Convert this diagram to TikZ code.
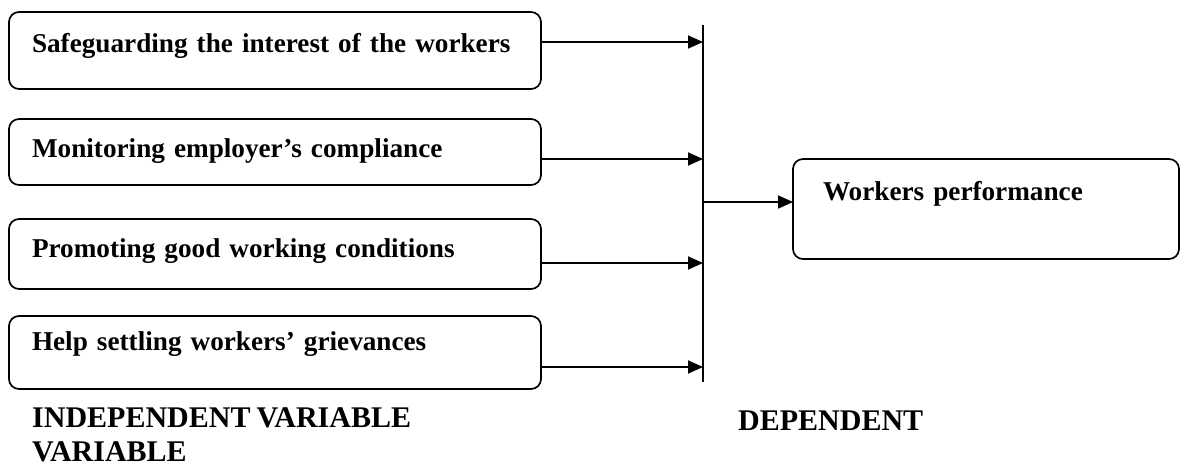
\documentclass[tikz,border=0pt]{standalone}
\usepackage{fontspec}
\setmainfont[WordSpace=0.8]{Liberation Serif}
\usetikzlibrary{arrows.meta,positioning}
\tikzset{
  ivbox/.style 2 args={draw, line width=1.7pt, rounded corners=10pt, anchor=north west,
    inner xsep=23pt, inner ysep=0pt, outer sep=0pt, text width=486pt, align=left,
    text height=#1, text depth=#2, font=\fontsize{27.2}{30}\selectfont\bfseries},
  dvbox/.style={ivbox={41pt}{59pt}, inner xsep=30pt, text width=326pt},
  feed/.style={-{Triangle[length=15pt,width=13pt]}, line width=1.7pt},
  bar/.style={line width=1.7pt},
  caption/.style={inner sep=0pt, align=left, font=\fontsize{30}{34}\selectfont\bfseries},
}
\begin{document}
\begin{tikzpicture}[x=1pt,y=-1pt]
\useasboundingbox (0,0) rectangle (1181,466);

% independent variables
\node[ivbox={40pt}{37pt}] (safeguard) at (9,12) {Safeguarding the interest of the workers};
\node[ivbox={38pt}{28pt}, below=30pt of safeguard] (monitor) {Monitoring employer’s compliance};
\node[ivbox={38pt}{32pt}, below=34pt of monitor] (promote) {Promoting good working conditions};
\node[ivbox={34pt}{39pt}, below=27pt of promote] (grievance) {Help settling workers’ grievances};

% dependent variable
\node[dvbox] (perform) at (793,159) {Workers performance};

% collecting bar
\coordinate (bartop) at (703,25);
\coordinate (barbot) at (703,382);
\draw[bar] (bartop) -- (barbot);

\draw[feed] ([yshift=8.5pt]safeguard.east) -- ([yshift=8.5pt]safeguard.east -| bartop);
\draw[feed] ([yshift=-7pt]monitor.east) -- ([yshift=-7pt]monitor.east -| bartop);
\draw[feed] ([yshift=-9pt]promote.east) -- ([yshift=-9pt]promote.east -| bartop);
\draw[feed] ([yshift=-14.5pt]grievance.east) -- ([yshift=-14.5pt]grievance.east -| bartop);
\draw[feed] ([yshift=7pt]perform.west -| bartop) -- ([yshift=7pt]perform.west);

% captions
\node[caption, anchor=base west] (indlab) at (32,461) {INDEPENDENT VARIABLE\\VARIABLE};
\node[caption, anchor=base west] (deplab) at (738,430) {DEPENDENT};

\end{tikzpicture}
\end{document}
